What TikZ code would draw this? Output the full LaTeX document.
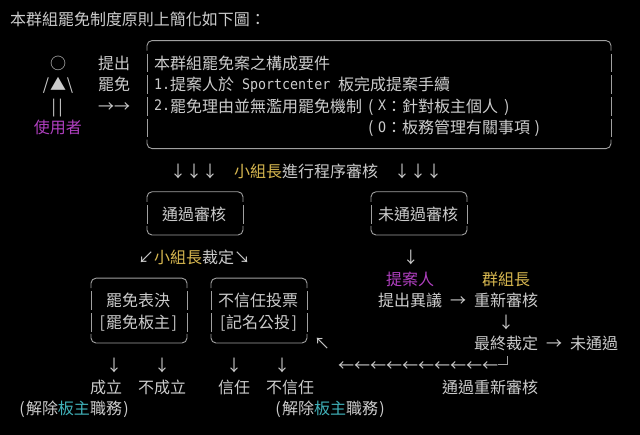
\documentclass[tikz,border=0pt]{standalone}
\usepackage{fontspec}
\setmainfont{Noto Sans CJK TC}
\newfontfamily\monofam[FakeStretch=0.92]{DejaVu Sans Mono}
\definecolor{fg}{HTML}{CCCCCC}
\definecolor{ln}{HTML}{A0A0A0}
\definecolor{pur}{HTML}{B040C0}
\definecolor{yel}{HTML}{D8B850}
\definecolor{cyn}{HTML}{40B0B8}
\tikzset{
 txt/.style={inner sep=0pt, outer sep=0pt, text=fg, font=\fontsize{16pt}{16pt}\selectfont, anchor=base west},
 mtxt/.style={txt, font=\monofam\fontsize{14.5pt}{15pt}\selectfont},
 atc/.style 2 args={at={({8*(#1)+2},{26+21.6*(#2)})}},
 atm/.style 2 args={at={({8*(#1)+2},{24.3+21.6*(#2)})}},
 atx/.style 2 args={at={({8*(#1)+2},{26+21.6*(#2)})}, anchor=base},
 frame/.style={draw=ln, line width=0.9pt},
}
\newcommand\pttframe[5]{%
 \draw[frame, rounded corners=5pt] (#1,{20+21.6*(#3)+9}) -- (#1,{20+21.6*(#3)-1}) -- (#2,{20+21.6*(#3)-1}) -- (#2,{20+21.6*(#3)+9});
 \draw[frame, rounded corners=5pt] (#1,{20+21.6*(#4)-10}) -- (#1,{20+21.6*(#4)-1}) -- (#2,{20+21.6*(#4)-1}) -- (#2,{20+21.6*(#4)-10});
 \foreach \k in {#5} {
  \draw[frame] (#1,{20+21.6*\k-9.3}) -- (#1,{20+21.6*\k+9.3});
  \draw[frame] (#2,{20+21.6*\k-9.3}) -- (#2,{20+21.6*\k+9.3});
 }%
}
\begin{document}
\begin{tikzpicture}[x=1pt,y=-1pt]
\fill[black] (0,0) rectangle (640,435);
\useasboundingbox (0,0) rectangle (640,435);

% title
\node[txt, atc={1}{0}] (title) {本群組罷免制度原則上簡化如下圖：};

% user figure
\node[txt, atx={7}{2}] (head) {○};
\node[txt, atx={5.5}{3}] (larm) {/};
\node[txt, atx={7}{3}] (torso) {▲};
\node[txt, atx={8.5}{3}] (rarm) {\textbackslash};
\node[txt, atx={6.9}{4}] (legs) {|\kern2.5pt|};
\node[txt, atc={4}{5}, text=pur] (user) {使用者};
\node[txt, atc={12}{2}] (act1) {提出};
\node[txt, atc={12}{3}] (act2) {罷免};
\node[txt, atc={12}{4}] (act3) {→→};

% main box
\pttframe{147}{611}{1}{6}{2,3,4,5}
\node[txt, atc={19}{2}] (m1) {本群組罷免案之構成要件};
\node[mtxt, atm={19}{3}] (m2n) {1.};
\node[txt, atc={21}{3}] (m2a) {提案人於};
\node[mtxt, atm={30}{3}] (m2b) {Sportcenter};
\node[txt, atc={42}{3}] (m2c) {板完成提案手續};
\node[mtxt, atm={19}{4}] (m3n) {2.};
\node[txt, atc={21}{4}] (m3a) {罷免理由並無濫用罷免機制};
\node[txt, atx={46.1}{4}] (m3p) {(};
\node[mtxt, atm={47}{4}] (m3x) {X};
\node[txt, atc={48}{4}] (m3b) {：針對板主個人};
\node[txt, atx={63.1}{4}] (m3q) {)};
\node[txt, atx={46.1}{5}] (m4p) {(};
\node[mtxt, atm={47}{5}] (m4o) {O};
\node[txt, atc={48}{5}] (m4b) {：板務管理有關事項};
\node[txt, atx={66.9}{5}] (m4q) {)};

% procedural review
\node[txt, atx={22}{7}] (d1) {↓};
\node[txt, atx={24}{7}] (d2) {↓};
\node[txt, atx={26}{7}] (d3) {↓};
\node[txt, atc={29}{7}] (rev) {\textcolor{yel}{小組長}進行程序審核};
\node[txt, atx={50}{7}] (d4) {↓};
\node[txt, atx={52}{7}] (d5) {↓};
\node[txt, atx={54}{7}] (d6) {↓};

% pass / fail boxes
\pttframe{147}{243}{8}{10}{9}
\node[txt, atc={20}{9}] (pass) {通過審核};
\pttframe{371}{467}{8}{10}{9}
\node[txt, atc={47}{9}] (fail) {未通過審核};

\node[txt, atx={18}{11}] (sw) {↙};
\node[txt, atc={19}{11}] (rule) {\textcolor{yel}{小組長}裁定};
\node[txt, atx={30}{11}] (se) {↘};
\node[txt, atx={51.1}{11}] (d7) {↓};

% vote boxes
\pttframe{91}{187}{12}{15}{13,14}
\node[txt, atc={13}{13}] (v1) {罷免表決};
\node[txt, atx={12.55}{14}] (v1p) {[};
\node[txt, atc={13}{14}] (v1b) {罷免板主};
\node[txt, atx={21.55}{14}] (v1q) {]};
\pttframe{211}{307}{12}{15}{13,14}
\node[txt, atc={27}{13}] (v2) {不信任投票};
\node[txt, atx={27.6}{14}] (v2p) {[};
\node[txt, atc={28}{14}] (v2b) {記名公投};
\node[txt, atx={36.55}{14}] (v2q) {]};

% appeal branch
\node[txt, atc={48}{12}, text=pur] (prop) {提案人};
\node[txt, atc={60}{12}, text=yel] (lead) {群組長};
\node[txt, atc={47}{13}] (obj) {提出異議};
\node[txt, atx={57}{13}] (r1) {→};
\node[txt, atc={59}{13}] (rerev) {重新審核};
\node[txt, atx={63}{14}] (d8) {↓};
\node[txt, atx={40}{15}] (nw) {↖};
\node[txt, atc={59}{15}] (final) {最終裁定};
\node[txt, atx={69}{15}] (r2) {→};
\node[txt, atc={71}{15}] (nopass) {未通過};

% results
\node[txt, atx={14}{16}] (d9) {↓};
\node[txt, atx={20}{16}] (d10) {↓};
\node[txt, atx={29}{16}] (d11) {↓};
\node[txt, atx={35}{16}] (d12) {↓};
\node[txt, atc={42}{16}] (larr) {←←←←←←←←←←};
\coordinate (bend) at (507,{20+21.6*16-1});
\draw[frame] (larr.east |- bend) -- (bend) -- ++(0,-9);

\node[txt, atc={11}{17}] (o1) {成立};
\node[txt, atc={17}{17}] (o2) {不成立};
\node[txt, atc={27}{17}] (o3) {信任};
\node[txt, atc={33}{17}] (o4) {不信任};
\node[txt, atc={55}{17}] (o5) {通過重新審核};

\node[txt, atx={2.5}{18}] (n1p) {(};
\node[txt, atc={3}{18}] (n1) {解除\textcolor{cyn}{板主}職務};
\node[txt, atx={15.5}{18}] (n1q) {)};
\node[txt, atx={34.5}{18}] (n2p) {(};
\node[txt, atc={35}{18}] (n2) {解除\textcolor{cyn}{板主}職務};
\node[txt, atx={47.5}{18}] (n2q) {)};
\end{tikzpicture}
\end{document}
